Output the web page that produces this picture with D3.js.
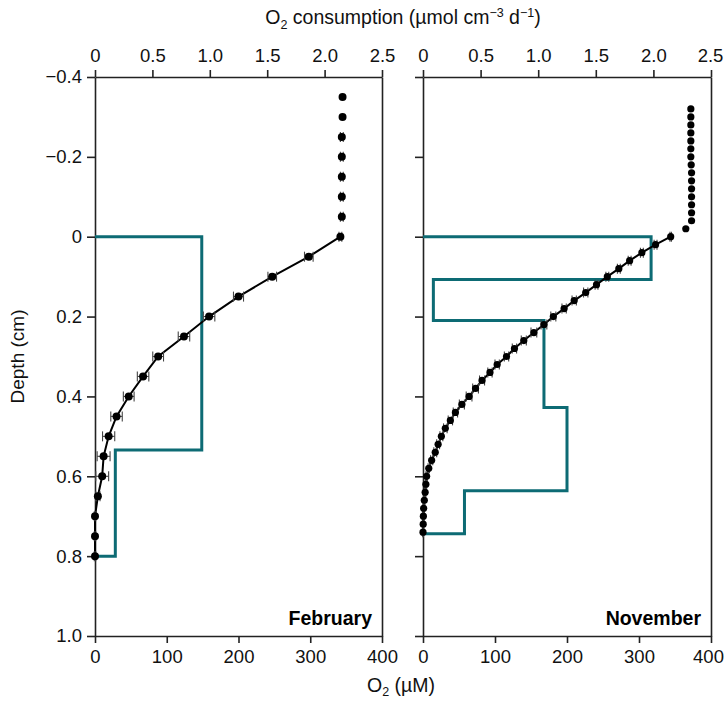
<!DOCTYPE html>
<html>
<head>
<meta charset="utf-8">
<script src="https://cdn.jsdelivr.net/npm/d3@7"></script>
<style>
  html, body { margin: 0; padding: 0; background: #fff; }
  svg { display: block; font-family: "Liberation Sans", Arial, sans-serif; }
</style>
</head>
<body>
<svg id="chart" width="725" height="702"></svg>
<script>
// O2 profiles (µM) against depth (cm), with horizontal error (µM)
const febDepth = [-0.35, -0.30, -0.25, -0.20, -0.15, -0.10, -0.05, 0.00, 0.05, 0.10, 0.15, 0.20, 0.25, 0.30,
                  0.35, 0.40, 0.45, 0.50, 0.55, 0.60, 0.65, 0.70, 0.75, 0.80];
const febO2 = [345, 345, 344, 344, 344, 344, 344, 342, 298, 247, 200, 159, 124, 88,
               67, 47, 30, 19, 12, 10, 4, 0, 0, 0];
const febErr = [0, 0, 2, 2, 2, 2, 2, 2, 6, 6, 7, 8, 8, 7.5,
                8, 7.5, 8, 8.5, 9, 9, 3, 1, 1, 1];

const novDepth = [-0.32, -0.30, -0.28, -0.26, -0.24, -0.22, -0.20, -0.18, -0.16, -0.14, -0.12, -0.10,
                  -0.08, -0.06, -0.04, -0.02, 0.00, 0.02, 0.04, 0.06, 0.08, 0.10, 0.12, 0.14, 0.16,
                  0.18, 0.20, 0.22, 0.24, 0.26, 0.28, 0.30, 0.32, 0.34, 0.36, 0.38, 0.40, 0.42,
                  0.44, 0.46, 0.48, 0.50, 0.52, 0.54, 0.56, 0.58, 0.60, 0.62, 0.64, 0.66, 0.68,
                  0.70, 0.72, 0.74];
const novO2 = [372, 372, 372, 372, 372, 372, 372, 372.5, 373, 373, 373, 373,
               373, 373, 373, 365, 344, 323, 304, 287, 272, 256, 241, 226, 210,
               196, 181, 168, 154, 140, 127, 116, 103, 93, 82, 73, 64, 54,
               45, 38, 31, 25.5, 21, 17, 12, 8, 5, 4, 3, 1.8, 0.9,
               0.5, 0.3, 0];
const novErr = [0, 0, 0, 0, 0, 0, 0, 0, 0, 0, 0, 0,
                0, 0, 0, 0, 1, 2, 2, 2, 2, 2, 2, 3, 3,
                3, 3.5, 4, 4, 3.5, 3, 3, 3, 3, 3.5, 4, 4, 3.5,
                3, 3, 2.5, 2, 2, 2, 1.5, 1, 1, 1, 1, 1, 1,
                0.5, 0.5, 0.5];

// O2 consumption rate (µmol cm-3 d-1) per depth layer
const febLayerTop = [0.00, 0.534];
const febLayerBottom = [0.534, 0.80];
const febRate = [0.93, 0.177];

const novLayerTop = [0.00, 0.107, 0.21, 0.428, 0.636];
const novLayerBottom = [0.107, 0.21, 0.428, 0.636, 0.744];
const novRate = [1.98, 0.09, 1.05, 1.25, 0.36];

const depthTicks = [-0.4, -0.2, 0, 0.2, 0.4, 0.6, 0.8, 1.0];
const rateTicks = [0, 0.5, 1.0, 1.5, 2.0, 2.5];
const o2Ticks = [0, 100, 200, 300, 400];

const panels = [
  { name: "February", depth: febDepth, o2: febO2, err: febErr,
    top: febLayerTop, bottom: febLayerBottom, rate: febRate, x0: 95, x1: 382, labels: true, r: 4 },
  { name: "November", depth: novDepth, o2: novO2, err: novErr,
    top: novLayerTop, bottom: novLayerBottom, rate: novRate, x0: 423, x1: 711, labels: false, r: 3.6 }
];

const svg = d3.select("#chart");
const teal = "#0d6b74";
const axisColor = "#222";
const yTop = 77, yBottom = 636;
const y = d3.scaleLinear().domain([-0.4, 1.0]).range([yTop, yBottom]);

const fmtDepth = d => d === 0 ? "0" : d3.format(".1f")(d).replace("-", "\u2013");
const fmtRate = d => d === 0 ? "0" : d3.format(".1f")(d);

function styleAxis(g, showLabels) {
  g.select(".domain").attr("stroke", axisColor).attr("stroke-width", 1.6);
  g.selectAll(".tick line").attr("stroke", axisColor).attr("stroke-width", 1.6);
  g.selectAll(".tick text").attr("fill", "#111").attr("font-size", 18.5)
    .style("display", showLabels ? null : "none");
}

panels.forEach((p, pi) => {
  const xO2 = d3.scaleLinear().domain([0, 400]).range([p.x0, p.x1]);
  const xRate = d3.scaleLinear().domain([0, 2.5]).range([p.x0, p.x1]);
  const g = svg.append("g");

  // axes
  const left = g.append("g").attr("transform", `translate(${p.x0},0)`)
    .call(d3.axisLeft(y).tickValues(depthTicks).tickFormat(fmtDepth).tickSize(8).tickPadding(5).tickSizeOuter(0));
  styleAxis(left, p.labels);

  const right = g.append("g").attr("transform", `translate(${p.x1},0)`)
    .call(d3.axisRight(y).tickValues([]).tickSizeOuter(0));
  styleAxis(right, false);

  const top = g.append("g").attr("transform", `translate(0,${yTop})`)
    .call(d3.axisTop(xRate).tickValues(rateTicks).tickFormat(fmtRate).tickSize(7).tickPadding(8).tickSizeOuter(0));
  styleAxis(top, true);

  const bottom = g.append("g").attr("transform", `translate(0,${yBottom})`)
    .call(d3.axisBottom(xO2).tickValues(o2Ticks).tickFormat(d3.format("d")).tickSize(7).tickPadding(7).tickSizeOuter(0));
  styleAxis(bottom, true);

  // keep the outermost labels of the right panel inside the page
  if (pi === panels.length - 1) {
    bottom.selectAll(".tick text").filter(d => d === 400).attr("dx", -3);
    top.selectAll(".tick text").filter(d => d === 2.5).attr("dx", -1);
  }

  // consumption step profile
  const steps = [[0, p.top[0]]];
  p.rate.forEach((r, i) => { steps.push([r, p.top[i]]); steps.push([r, p.bottom[i]]); });
  steps.push([0, p.bottom[p.bottom.length - 1]]);
  g.append("path")
    .attr("d", d3.line().x(d => xRate(d[0])).y(d => y(d[1]))(steps))
    .attr("fill", "none").attr("stroke", teal).attr("stroke-width", 3)
    .attr("stroke-linejoin", "miter");

  // O2 profile: connecting line below the sediment surface
  const pts = p.depth.map((d, i) => ({ d, v: p.o2[i], e: p.err[i] }));
  g.append("path")
    .attr("d", d3.line().x(d => xO2(d.v)).y(d => y(d.d))(pts.filter(q => q.d >= 0)))
    .attr("fill", "none").attr("stroke", "#000").attr("stroke-width", 2);

  // error bars
  const eb = g.append("g").attr("stroke", "#444").attr("stroke-width", 1.1).attr("fill", "none");
  pts.filter(q => q.e > 0).forEach(q => {
    const cy = y(q.d), xl = xO2(q.v - q.e), xr = xO2(q.v + q.e);
    eb.append("line").attr("x1", xl).attr("x2", xr).attr("y1", cy).attr("y2", cy);
    eb.append("line").attr("x1", xl).attr("x2", xl).attr("y1", cy - 5).attr("y2", cy + 5);
    eb.append("line").attr("x1", xr).attr("x2", xr).attr("y1", cy - 5).attr("y2", cy + 5);
  });

  // points
  g.append("g").selectAll("circle").data(pts).join("circle")
    .attr("cx", d => xO2(d.v)).attr("cy", d => y(d.d))
    .attr("r", p.r)
    .attr("fill", "#000");

  // month label
  g.append("text").attr("x", p.x1 - 10).attr("y", 625)
    .attr("text-anchor", "end").attr("font-size", 19.5).attr("font-weight", "bold")
    .attr("fill", "#000").text(p.name);
});

// axis titles
const topTitle = svg.append("text").attr("x", 403).attr("y", 24)
  .attr("text-anchor", "middle").attr("font-size", 19.5).attr("fill", "#111");
topTitle.append("tspan").text("O");
topTitle.append("tspan").attr("font-size", 12.5).attr("dy", 5).text("2");
topTitle.append("tspan").attr("dy", -5).text(" consumption (µmol cm");
topTitle.append("tspan").attr("font-size", 12.5).attr("dy", -7).text("\u22123");
topTitle.append("tspan").attr("dy", 7).text(" d");
topTitle.append("tspan").attr("font-size", 12.5).attr("dy", -7).text("\u22121");
topTitle.append("tspan").attr("dy", 7).text(")");

const botTitle = svg.append("text").attr("x", 401).attr("y", 692)
  .attr("text-anchor", "middle").attr("font-size", 19.5).attr("fill", "#111");
botTitle.append("tspan").text("O");
botTitle.append("tspan").attr("font-size", 12.5).attr("dy", 4).text("2");
botTitle.append("tspan").attr("dy", -4).text(" (µM)");

svg.append("text")
  .attr("transform", `translate(24,${(yTop + yBottom) / 2}) rotate(-90)`)
  .attr("text-anchor", "middle").attr("font-size", 19).attr("fill", "#111")
  .text("Depth (cm)");
</script>
</body>
</html>
